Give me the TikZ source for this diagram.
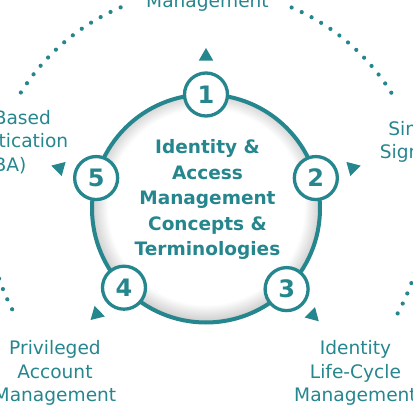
\documentclass[tikz,border=0pt]{standalone}
\usepackage{fontspec}
\setmainfont{DejaVu Sans}
\usetikzlibrary{shapes.geometric,positioning}

\definecolor{iamteal}{RGB}{38,134,142}
\pgfdeclareradialshading{rimshade}{\pgfpoint{0bp}{0.8bp}}{color(0bp)=(white); color(21.5bp)=(white); color(24.5bp)=(black!16); color(26bp)=(black!26); color(50bp)=(black!26)}

\begin{document}
\begin{tikzpicture}[x=1pt,y=1pt,
	num/.style={circle,draw=iamteal,line width=3.3pt,fill=white,minimum size=43pt,inner sep=0pt,text=iamteal,font=\fontsize{24}{24}\selectfont\bfseries},
	tip/.style={regular polygon,regular polygon sides=3,fill=iamteal,minimum size=17pt,inner sep=0pt},
	topic/.style={align=center,text=iamteal,inner sep=0pt,font=\fontsize{18.6}{23.6}\selectfont},
	core/.style={align=center,text=iamteal,inner sep=0pt,font=\fontsize{18.5}{25.5}\selectfont\bfseries},
	track/.style={iamteal,line width=4.2pt,line cap=round,dash pattern=on 0pt off 11.1pt}]
	\clip (0,0) rectangle (413,413);
	\coordinate (C) at (206,204.5);

	\draw[track] (C) ++(113:218.5) arc[start angle=113,end angle=148,radius=218.5];
	\draw[track] (C) ++(32:218.5) arc[start angle=32,end angle=67.4,radius=218.5];
	\draw[track] (C) ++(190:218.5) arc[start angle=190,end angle=209,radius=218.5];
	\draw[track] (C) ++(331.3:218.5) arc[start angle=331.3,end angle=350,radius=218.5];

	\shade[shading=rimshade] (C) circle[radius=114];
	\draw[iamteal,line width=4pt] (C) circle[radius=114];

	\node[core] (hub) at (207.5,213.5) {Identity \&\\Access\\Management\\Concepts \&\\Terminologies};

	\path (C) ++(90:114) node[num] (n1) {1};
	\path (C) ++(15.5:114) node[num] (n2) {2};
	\path (C) ++(-45:114) node[num] (n3) {3};
	\path (C) ++(-136:114) node[num] (n4) {4};
	\path (C) ++(164.5:114) node[num] (n5) {5};

	\path (C) ++(90:152) node[tip,rotate=0] (t1) {};
	\path (C) ++(15.5:152) node[tip,rotate=-74.5] (t2) {};
	\path (C) ++(-45:151) node[tip,rotate=-135] (t3) {};
	\path (C) ++(-136:152) node[tip,rotate=-226] (t4) {};
	\path (C) ++(164.5:152) node[tip,rotate=74.5] (t5) {};

	\node[topic,anchor=base] (mgmt) at (207.5,405) {Management};
	\node[topic] (rba) at (0,271) {Risk-Based\\Authentication\\(RBA)};
	\node[topic] (sso) at (417,271) {Single\\Sign-On};
	\node[topic] (pam) at (55,40) {Privileged\\Account\\Management};
	\node[topic] (ilm) at (355.5,40) {Identity\\Life-Cycle\\Management};
\end{tikzpicture}
\end{document}
